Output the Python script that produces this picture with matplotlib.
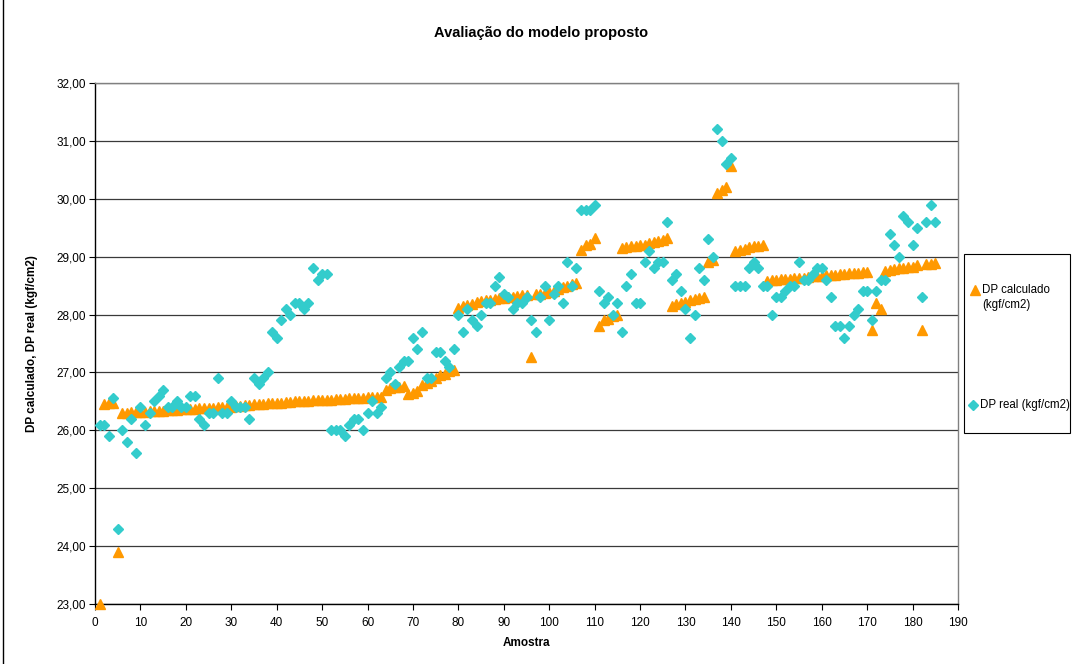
import numpy as np
import matplotlib
matplotlib.use('Agg')
import matplotlib.pyplot as plt
from matplotlib.lines import Line2D
from matplotlib.patches import Rectangle
from matplotlib.ticker import MultipleLocator, FuncFormatter

plt.rcParams['font.family'] = ['Liberation Sans', 'DejaVu Sans']

cor_calc = '#FF9900'
cor_real = '#33CCCC'

# DP calculado (kgf/cm2), amostras 1..185
dp_calculado = [
    23.00, 26.45, 26.47, 26.48, 23.90,
    26.30, 26.30, 26.31, 26.31, 26.32, 26.32, 26.33, 26.33, 26.34, 26.34,
    26.35, 26.35, 26.35, 26.36, 26.36,
    26.37, 26.37, 26.38, 26.38, 26.39, 26.39, 26.40, 26.40, 26.41, 26.41,
    26.42, 26.42, 26.43, 26.44, 26.45, 26.46, 26.46, 26.47, 26.47, 26.48,
    26.48, 26.49, 26.49, 26.50, 26.50, 26.51, 26.51, 26.52, 26.52, 26.52,
    26.53, 26.53, 26.54, 26.54, 26.54, 26.55, 26.55, 26.56, 26.56, 26.57,
    26.57, 26.58, 26.58,
    26.70, 26.73, 26.74, 26.75, 26.76,
    26.62, 26.65, 26.68,
    26.78, 26.82, 26.86, 26.90, 26.95, 26.98, 27.02, 27.05,
    28.12, 28.15, 28.17, 28.19, 28.21, 28.23, 28.25, 28.26, 28.27, 28.28,
    28.29, 28.30, 28.31, 28.32, 28.33, 28.34,
    27.27,
    28.35, 28.36, 28.37, 28.39, 28.41, 28.44, 28.47, 28.50, 28.53, 28.55,
    29.12, 29.20, 29.22, 29.32,
    27.80, 27.90, 27.93, 27.97, 28.00,
    29.15, 29.17, 29.18, 29.19, 29.20, 29.21, 29.23, 29.25, 29.27, 29.29, 29.32,
    28.15, 28.18, 28.20, 28.22, 28.25, 28.27, 28.29, 28.31,
    28.90, 28.95,
    30.10, 30.15, 30.20,
    30.57,
    29.10, 29.12, 29.14, 29.16, 29.18, 29.19, 29.20,
    28.58, 28.59, 28.60, 28.61, 28.61, 28.62, 28.63, 28.63, 28.64, 28.65,
    28.66, 28.66, 28.67, 28.68, 28.68, 28.69, 28.70, 28.70, 28.71, 28.72,
    28.72, 28.73, 28.74,
    27.73, 28.20, 28.10,
    28.75, 28.77, 28.78, 28.80, 28.81, 28.82, 28.83, 28.85,
    27.73,
    28.87, 28.88, 28.89,
]

# DP real (kgf/cm2), amostras 1..185
dp_real = [
    26.1, 26.1, 25.9, 26.55, 24.3, 26.0, 25.8, 26.2, 25.6, 26.4,
    26.1, 26.3, 26.5, 26.6, 26.7, 26.4, 26.4, 26.5, 26.4, 26.4,
    26.6, 26.6, 26.2, 26.1, 26.3, 26.3, 26.9, 26.3, 26.3, 26.5,
    26.4, 26.4, 26.4, 26.2, 26.9, 26.8, 26.9, 27.0, 27.7, 27.6,
    27.9, 28.1, 28.0, 28.2, 28.2, 28.1, 28.2, 28.8, 28.6, 28.7,
    28.7, 26.0, 26.0, 26.0, 25.9, 26.1, 26.2, 26.2, 26.0, 26.3,
    26.5, 26.3, 26.4, 26.9, 27.0, 26.8, 27.1, 27.2, 27.2, 27.6,
    27.4, 27.7, 26.9, 26.9, 27.35, 27.35, 27.2, 27.1, 27.4, 28.0,
    27.7, 28.1, 27.9, 27.8, 28.0, 28.2, 28.2, 28.5, 28.65, 28.35,
    28.3, 28.1, 28.2, 28.2, 28.3, 27.9, 27.7, 28.3, 28.5, 27.9,
    28.35, 28.5, 28.2, 28.9, 28.5, 28.8, 29.8, 29.8, 29.8, 29.9,
    28.4, 28.2, 28.3, 28.0, 28.2, 27.7, 28.5, 28.7, 28.2, 28.2,
    28.9, 29.1, 28.8, 28.9, 28.9, 29.6, 28.6, 28.7, 28.4, 28.1,
    27.6, 28.0, 28.8, 28.6, 29.3, 29.0, 31.2, 31.0, 30.6, 30.7,
    28.5, 28.5, 28.5, 28.8, 28.9, 28.8, 28.5, 28.5, 28.0, 28.3,
    28.3, 28.4, 28.5, 28.5, 28.9, 28.6, 28.6, 28.7, 28.8, 28.8,
    28.6, 28.3, 27.8, 27.8, 27.6, 27.8, 28.0, 28.1, 28.4, 28.4,
    27.9, 28.4, 28.6, 28.6, 29.4, 29.2, 29.0, 29.7, 29.6, 29.2,
    29.5, 28.3, 29.6, 29.9, 29.6,
]

amostra = np.arange(1, len(dp_real) + 1)

W, H = 1072, 664
fig = plt.figure(figsize=(W / 100, H / 100), dpi=100)
fig.patch.set_facecolor('white')

ax = fig.add_axes([95 / W, 1 - 604 / H, (958 - 95) / W, (604 - 83) / H])

ax.plot(amostra, dp_calculado, linestyle='none', marker='^', ms=7.5,
        color=cor_calc, mec=cor_calc, zorder=3, clip_on=False)
ax.plot(amostra, dp_real, linestyle='none', marker='D', ms=5.5,
        color=cor_real, mec=cor_real, zorder=4, clip_on=False)

ax.set_xlim(0, 190)
ax.set_ylim(23, 32)
ax.xaxis.set_major_locator(MultipleLocator(10))
ax.yaxis.set_major_locator(MultipleLocator(1))
ax.yaxis.set_major_formatter(FuncFormatter(lambda v, p: ('%.2f' % v).replace('.', ',')))

ax.grid(axis='y', color='#3a3a3a', linewidth=0.9, zorder=1)
ax.set_axisbelow(True)

for s in ['top', 'right']:
    ax.spines[s].set_color('#808080')
    ax.spines[s].set_linewidth(1.0)
for s in ['left', 'bottom']:
    ax.spines[s].set_color('black')
    ax.spines[s].set_linewidth(1.0)

ax.tick_params(axis='both', direction='out', length=4, width=0.8,
               labelsize=8.5, colors='black')
ax.tick_params(axis='y', pad=2.5)
ax.tick_params(axis='x', pad=5)

ax.set_xlabel('Amostra', fontsize=8.5, fontweight='bold', labelpad=6)
ax.set_ylabel('DP calculado, DP real (kgf/cm2)', fontsize=8.5,
              fontweight='bold', labelpad=13)

fig.text(541 / W, 1 - 33 / H, 'Avaliação do modelo proposto', ha='center',
         va='center', fontsize=10.5, fontweight='bold')

# legenda
fig.add_artist(Rectangle((964 / W, 1 - 433 / H), (1070 - 964) / W, (433 - 254) / H,
                         transform=fig.transFigure, facecolor='white',
                         edgecolor='black', linewidth=0.8))
fig.add_artist(Line2D([975 / W], [1 - 290 / H], marker='^', ms=7.5,
                      color=cor_calc, transform=fig.transFigure))
fig.text(982 / W, 1 - 290 / H, 'DP calculado', fontsize=8.3, va='center')
fig.text(982 / W, 1 - 305 / H, '(kgf/cm2)', fontsize=8.3, va='center')
fig.add_artist(Line2D([973 / W], [1 - 405 / H], marker='D', ms=5,
                      color=cor_real, transform=fig.transFigure))
fig.text(980 / W, 1 - 405 / H, 'DP real (kgf/cm2)', fontsize=8.3, va='center')

# moldura do grafico
fig.add_artist(Line2D([3 / W, 3 / W], [0, 1], color='black', linewidth=1.0,
                      transform=fig.transFigure))

fig.savefig('out.png', dpi=100)
